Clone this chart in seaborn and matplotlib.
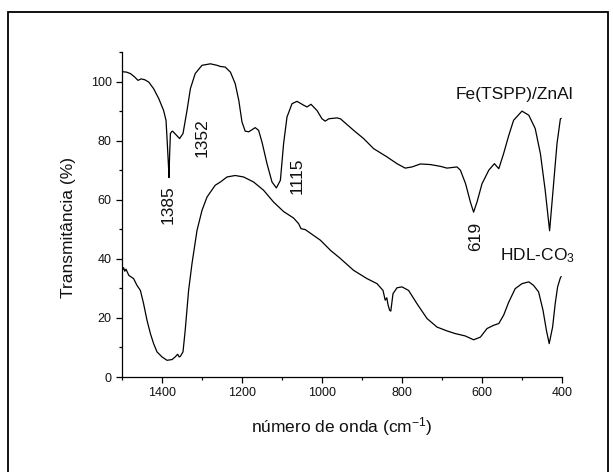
import matplotlib
matplotlib.use("Agg")
import matplotlib.pyplot as plt
from matplotlib.patches import Rectangle
from matplotlib.ticker import MultipleLocator
import seaborn as sns
import pandas as pd

# ---------------- data ----------------
wn_fe = [1498, 1489, 1479, 1468, 1460, 1452, 1443, 1433, 1421, 1408, 1396, 1390,
         1387.5, 1384, 1382.5, 1381, 1379, 1376, 1373.5, 1365, 1356, 1347.5, 1337.5,
         1329, 1317, 1300, 1279, 1262.5, 1254, 1242, 1229, 1217, 1208, 1200, 1192,
         1183, 1167, 1158.5, 1150, 1137.5, 1125, 1114, 1104, 1096, 1087.5, 1075,
         1062.5, 1046, 1037.5, 1027.5, 1012.5, 1000, 992, 983, 962.5, 954, 921, 896,
         871, 837.5, 812.5, 792, 775, 754, 729, 704, 687.5, 662.5, 654, 641, 629,
         621, 612.5, 600, 583, 569, 558, 546, 533, 521, 500, 483, 467, 454, 442,
         431, 421, 412.5, 404, 402]
t_fe = [103.3, 103.2, 102.7, 101.5, 100.4, 100.9, 100.6, 99.8, 97.6, 94.2, 90.2, 86.9,
        81.0, 72.0, 67.5, 75.0, 82.4, 83.0, 83.2, 82.0, 80.7, 82.4, 90.2,
        97.6, 102.7, 105.5, 106.0, 105.5, 105.1, 104.9, 103.2, 99.3, 93.6, 86.3, 83.2,
        83.0, 84.4, 83.5, 79.5, 72.2, 66.0, 64.0, 66.6, 79.0, 88.0, 92.5,
        93.3, 92.0, 91.4, 92.3, 90.2, 87.4, 86.6, 87.4, 87.7, 87.4, 83.5, 80.7,
        77.3, 74.5, 72.2, 70.7, 71.1, 72.1, 71.9, 71.3, 70.7, 71.1, 70.0, 65.4, 59.2,
        55.8, 59.2, 65.4, 70.0, 72.2, 70.5, 75.6, 81.8, 86.9, 90.0, 88.6, 84.1, 75.6, 63.2,
        49.5, 65.4, 79.0, 87.4, 87.5]

wn_hdl = [1498, 1496, 1493, 1490, 1483, 1471, 1462.5, 1454, 1446, 1437.5, 1429, 1421,
          1412.5, 1400, 1387.5, 1375, 1367, 1361, 1357, 1354, 1347.5, 1342, 1333.5,
          1325, 1312.5, 1300, 1287.5, 1267, 1254, 1237.5, 1217, 1196, 1171, 1146,
          1121, 1096, 1071, 1058.5, 1052.5, 1042, 1004, 979, 954, 921, 887.5, 862.5,
          847.5, 842, 838, 835, 831, 828, 822.5, 812.5, 800, 783.5, 762.5, 737.5,
          712.5, 687.5, 667, 642, 621, 604, 587.5, 571, 558, 546, 533, 517, 500, 483,
          471, 458.5, 447.5, 439, 432, 423.5, 417, 411, 404, 402]
t_hdl = [36.3, 37.0, 35.8, 36.5, 34.4, 33.3, 31.0, 29.3, 24.8, 19.2, 14.7, 11.3,
         8.5, 6.8, 5.65, 5.9, 6.8, 7.7, 6.8, 7.0, 8.5, 15.8, 29.3,
         38.4, 49.6, 56.4, 60.9, 64.9, 66.0, 67.7, 68.2, 67.7, 66.0, 63.2,
         59.2, 56.0, 53.8, 51.9, 50.2, 49.9, 46.3, 42.9, 40.1, 36.1, 33.3, 31.6,
         29.3, 26.0, 26.8, 24.5, 22.6, 22.3, 28.2, 30.2, 30.5, 29.3, 24.8, 19.8,
         16.9, 15.6, 14.7, 13.9, 12.6, 13.5, 16.4, 17.5, 18.1, 20.9, 25.4, 29.9, 31.6, 32.2,
         31.0, 28.8, 22.6, 15.8, 11.3, 16.9, 24.8, 30.5, 33.6, 34.0]

peak_labels = ["1385", "1352", "1115", "619"]
peak_x = [1384, 1300, 1062.5, 617]
peak_y = [58.2, 81.0, 68.0, 47.6]

series_names = ["Fe(TSPP)/ZnAl", "HDL-CO$_3$"]

x_ticks = [1400, 1200, 1000, 800, 600, 400]
y_ticks = [0, 20, 40, 60, 80, 100]

# ---------------- style ----------------
sns.set_theme(style="ticks")
plt.rcParams['font.family'] = ['Liberation Sans', 'DejaVu Sans']
plt.rcParams['mathtext.fontset'] = 'custom'
plt.rcParams['mathtext.rm'] = 'Liberation Sans'
plt.rcParams['mathtext.it'] = 'Liberation Sans:italic'
plt.rcParams['mathtext.bf'] = 'Liberation Sans:bold'

W, H = 613, 472
fig = plt.figure(figsize=(W / 100, H / 100), dpi=100)
ax = fig.add_axes([122 / W, 1 - 377 / H, (562 - 122) / W, (377 - 52) / H])

df_fe = pd.DataFrame({"wn": wn_fe, "T": t_fe})
df_hdl = pd.DataFrame({"wn": wn_hdl, "T": t_hdl})
sns.lineplot(data=df_fe, x="wn", y="T", color="black", lw=0.9, ax=ax, estimator=None)
sns.lineplot(data=df_hdl, x="wn", y="T", color="black", lw=0.9, ax=ax, estimator=None)

ax.set_xlim(1500, 400)
ax.set_ylim(0, 110)
ax.set_xticks(x_ticks)
ax.set_yticks(y_ticks)
ax.xaxis.set_minor_locator(MultipleLocator(100))
ax.yaxis.set_minor_locator(MultipleLocator(10))
ax.tick_params(which="major", direction="out", length=4, width=0.9, color="black",
               labelsize=9, labelcolor="#111111")
ax.tick_params(which="minor", direction="out", length=2.3, width=0.9, color="black")
ax.tick_params(axis="x", pad=3)
ax.tick_params(axis="y", pad=3.5)
for s in ["top", "right"]:
    ax.spines[s].set_visible(False)
for s in ["left", "bottom"]:
    ax.spines[s].set_linewidth(0.9)
    ax.spines[s].set_color("black")

ax.set_xlabel("número de onda (cm$^{-1}$)", fontsize=12.5, color="#111111")
ax.set_ylabel("Transmitância (%)", fontsize=12.5, color="#111111")
ax.xaxis.set_label_coords(0.5, -0.118)
ax.yaxis.set_label_coords(-0.105, 0.46)

for lab, px, py in zip(peak_labels, peak_x, peak_y):
    ax.text(px, py, lab, rotation=90, ha="center", va="center", fontsize=12.5,
            color="#111111")

ax.text(519, 95.7, series_names[0], ha="center", va="center", fontsize=12.5,
        color="#111111")
ax.text(554, 39.5, series_names[1], ha="left", va="baseline", fontsize=12.5,
        color="#111111")

# outer frame
fig.patches.append(Rectangle((7.5 / W, -0.02), (608 - 7.5) / W, (H - 12) / H + 0.02,
                             transform=fig.transFigure, fill=False, lw=1.3,
                             edgecolor="black"))

fig.savefig("out.png", dpi=100)
